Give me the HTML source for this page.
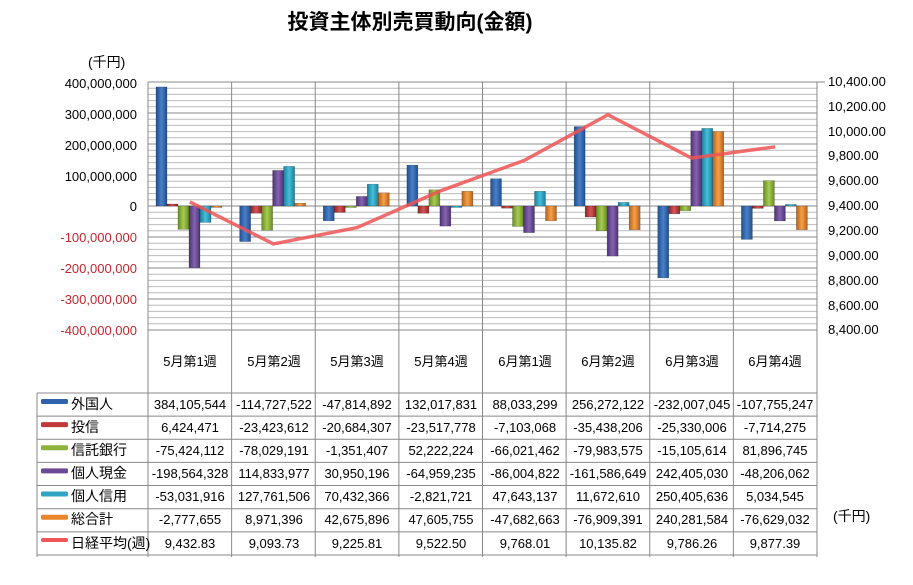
<!DOCTYPE html>
<html><head><meta charset="utf-8"><style>
body{margin:0;background:#fff;width:913px;height:580px;overflow:hidden;font-family:"Liberation Sans","Noto Sans CJK JP",sans-serif}
svg text{font-family:"Liberation Sans","Noto Sans CJK JP",sans-serif}
</style></head><body>
<svg id="s" width="913" height="580" xmlns="http://www.w3.org/2000/svg">
<defs>
<linearGradient id="g0"><stop offset="0" stop-color="#1f4f8f"/><stop offset=".5" stop-color="#4a80c8"/><stop offset="1" stop-color="#1f4f8f"/></linearGradient>
<linearGradient id="g1"><stop offset="0" stop-color="#8f2426"/><stop offset=".5" stop-color="#d65456"/><stop offset="1" stop-color="#8f2426"/></linearGradient>
<linearGradient id="g2"><stop offset="0" stop-color="#6a8c22"/><stop offset=".5" stop-color="#a6cc52"/><stop offset="1" stop-color="#6a8c22"/></linearGradient>
<linearGradient id="g3"><stop offset="0" stop-color="#4e3275"/><stop offset=".5" stop-color="#8464b0"/><stop offset="1" stop-color="#4e3275"/></linearGradient>
<linearGradient id="g4"><stop offset="0" stop-color="#1a8099"/><stop offset=".5" stop-color="#46bedc"/><stop offset="1" stop-color="#1a8099"/></linearGradient>
<linearGradient id="g5"><stop offset="0" stop-color="#b8621a"/><stop offset=".5" stop-color="#f7a04a"/><stop offset="1" stop-color="#b8621a"/></linearGradient>
</defs>
<g id="grid"></g>
<g id="bars"></g>
<g id="line"></g>
<text x="410" y="29" font-size="21" font-weight="bold" text-anchor="middle">投資主体別売買動向(金額)</text>
<text x="88" y="67" font-size="14" text-anchor="start">(千円)</text>
<g font-size="13" text-anchor="end">
<text x="137" y="88">400,000,000</text>
<text x="137" y="119">300,000,000</text>
<text x="137" y="150">200,000,000</text>
<text x="137" y="181">100,000,000</text>
<text x="137" y="211">0</text>
<g fill="#c0282d">
<text x="137" y="242">-100,000,000</text>
<text x="137" y="273">-200,000,000</text>
<text x="137" y="304">-300,000,000</text>
<text x="137" y="335">-400,000,000</text>
</g>
</g>
<g font-size="13" text-anchor="start">
<text x="828" y="86">10,400.00</text>
<text x="828" y="111">10,200.00</text>
<text x="828" y="136">10,000.00</text>
<text x="828" y="160">9,800.00</text>
<text x="828" y="185">9,600.00</text>
<text x="828" y="210">9,400.00</text>
<text x="828" y="235">9,200.00</text>
<text x="828" y="260">9,000.00</text>
<text x="828" y="285">8,800.00</text>
<text x="828" y="310">8,600.00</text>
<text x="828" y="334">8,400.00</text>
</g>
<g font-size="13" text-anchor="middle">
<text x="190" y="366">5月第1週</text><text x="274" y="366">5月第2週</text><text x="357" y="366">5月第3週</text><text x="441" y="366">5月第4週</text><text x="525" y="366">6月第1週</text><text x="608" y="366">6月第2週</text><text x="692" y="366">6月第3週</text><text x="775" y="366">6月第4週</text>
</g>
<g font-size="13" text-anchor="middle" id="tbl">
<text y="409"><tspan x="190">384,105,544</tspan><tspan x="274">-114,727,522</tspan><tspan x="357">-47,814,892</tspan><tspan x="441">132,017,831</tspan><tspan x="525">88,033,299</tspan><tspan x="608">256,272,122</tspan><tspan x="692">-232,007,045</tspan><tspan x="775">-107,755,247</tspan></text>
<text y="432"><tspan x="190">6,424,471</tspan><tspan x="274">-23,423,612</tspan><tspan x="357">-20,684,307</tspan><tspan x="441">-23,517,778</tspan><tspan x="525">-7,103,068</tspan><tspan x="608">-35,438,206</tspan><tspan x="692">-25,330,006</tspan><tspan x="775">-7,714,275</tspan></text>
<text y="455"><tspan x="190">-75,424,112</tspan><tspan x="274">-78,029,191</tspan><tspan x="357">-1,351,407</tspan><tspan x="441">52,222,224</tspan><tspan x="525">-66,021,462</tspan><tspan x="608">-79,983,575</tspan><tspan x="692">-15,105,614</tspan><tspan x="775">81,896,745</tspan></text>
<text y="478"><tspan x="190">-198,564,328</tspan><tspan x="274">114,833,977</tspan><tspan x="357">30,950,196</tspan><tspan x="441">-64,959,235</tspan><tspan x="525">-86,004,822</tspan><tspan x="608">-161,586,649</tspan><tspan x="692">242,405,030</tspan><tspan x="775">-48,206,062</tspan></text>
<text y="501"><tspan x="190">-53,031,916</tspan><tspan x="274">127,761,506</tspan><tspan x="357">70,432,366</tspan><tspan x="441">-2,821,721</tspan><tspan x="525">47,643,137</tspan><tspan x="608">11,672,610</tspan><tspan x="692">250,405,636</tspan><tspan x="775">5,034,545</tspan></text>
<text y="524"><tspan x="190">-2,777,655</tspan><tspan x="274">8,971,396</tspan><tspan x="357">42,675,896</tspan><tspan x="441">47,605,755</tspan><tspan x="525">-47,682,663</tspan><tspan x="608">-76,909,391</tspan><tspan x="692">240,281,584</tspan><tspan x="775">-76,629,032</tspan></text>
<text y="548"><tspan x="190">9,432.83</tspan><tspan x="274">9,093.73</tspan><tspan x="357">9,225.81</tspan><tspan x="441">9,522.50</tspan><tspan x="525">9,768.01</tspan><tspan x="608">10,135.82</tspan><tspan x="692">9,786.26</tspan><tspan x="775">9,877.39</tspan></text>
</g>
<g font-size="14" text-anchor="start">
<text x="71" y="409">外国人</text><text x="71" y="432">投信</text><text x="71" y="455">信託銀行</text><text x="71" y="478">個人現金</text><text x="71" y="501">個人信用</text><text x="71" y="524">総合計</text><text x="71" y="548">日経平均(週)</text>
</g>
<text x="833" y="521" font-size="14">(千円)</text>
</svg>
<script>
var s=document.getElementById('s'),NS='http://www.w3.org/2000/svg';
function el(p,t,a){var e=document.createElementNS(NS,t);for(var k in a)e.setAttribute(k,a[k]);document.getElementById(p).appendChild(e);return e;}
var L=148,R=817,T=82,B=330,Z=206,cw=(R-L)/8;
for(var i=0;i<=40;i++){var y=T+i*(B-T)/40;el('grid','line',{x1:L,x2:R,y1:y,y2:y,stroke:i%5==0?'#888':'#bbb','stroke-width':1});}
for(var i=0;i<=8;i++){var x=L+i*cw;el('grid','line',{x1:x,x2:x,y1:T,y2:557,stroke:'#888'});}
el('grid','line',{x1:37,x2:R,y1:393,y2:393,stroke:'#888'});
for(var r=1;r<=7;r++){var y=393+r*23.14;el('grid','line',{x1:37,x2:R,y1:y,y2:y,stroke:'#888'});}
el('grid','line',{x1:37,x2:37,y1:393,y2:557,stroke:'#888'});
el('grid','line',{x1:R,x2:R+8,y1:T,y2:T,stroke:'#888'});
var d=[[384105544,-114727522,-47814892,132017831,88033299,256272122,-232007045,-107755247],
[6424471,-23423612,-20684307,-23517778,-7103068,-35438206,-25330006,-7714275],
[-75424112,-78029191,-1351407,52222224,-66021462,-79983575,-15105614,81896745],
[-198564328,114833977,30950196,-64959235,-86004822,-161586649,242405030,-48206062],
[-53031916,127761506,70432366,-2821721,47643137,11672610,250405636,5034545],
[-2777655,8971396,42675896,47605755,-47682663,-76909391,240281584,-76629032]];
var n=[9432.83,9093.73,9225.81,9522.50,9768.01,10135.82,9786.26,9877.39];
for(var s2=0;s2<6;s2++)for(var c=0;c<8;c++){var v=d[s2][c]*0.31e-6;var x=L+c*cw+8+s2*11;var y=v>0?Z-v:Z;el('bars','rect',{x:x,y:y,width:11,height:Math.max(Math.abs(v),1.5),fill:'url(#g'+s2+')',stroke:'rgba(0,0,0,0.35)','stroke-width':0.5});}
var pts=n.map(function(v,c){return (L+c*cw+cw/2)+','+(Z-(v-9400)*0.124)}).join(' ');
el('line','polyline',{points:pts,fill:'none',stroke:'#f05454','stroke-width':3.5,'stroke-opacity':0.85});
var cols=['#2f64ad','#c0393b','#8db33a','#6d4a98','#2fa5c3','#e9862a'];
for(var r=0;r<6;r++){el('line','rect',{x:41,y:399+r*23.14,width:27,height:5,rx:1.5,fill:cols[r]});}
el('line','rect',{x:41,y:538,width:27,height:4,rx:2,fill:'#f05454'});
</script>
</body></html>
